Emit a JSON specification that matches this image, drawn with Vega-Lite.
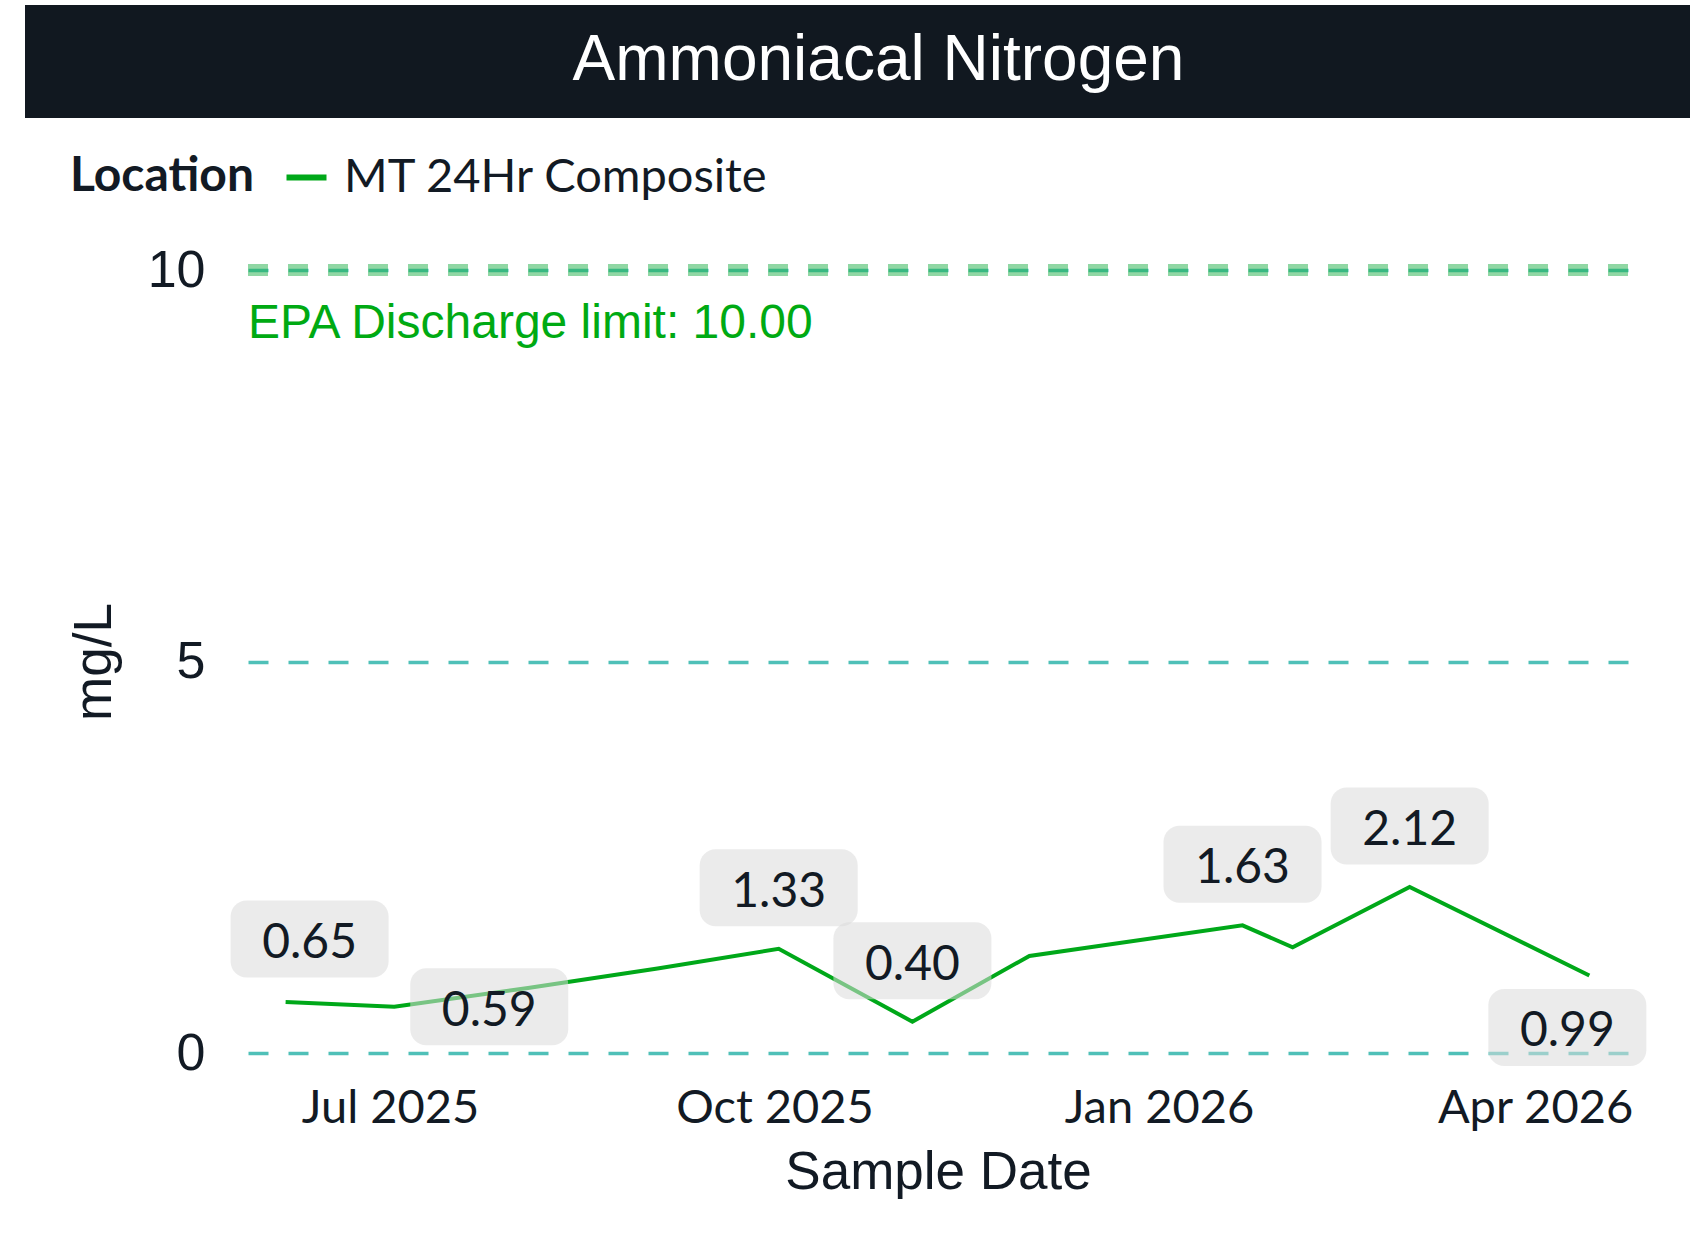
{
  "$schema": "https://vega.github.io/schema/vega-lite/v6.json",
  "background": "white",
  "padding": {"left": 25, "top": 5, "right": 0, "bottom": 0},
  "config": {"view": {"stroke": null}},
  "datasets": {
    "samples": [
      {"date": "2025-06-06T00:00:00", "value": 0.65, "location": "MT 24Hr Composite", "label_pos": "top-right"},
      {"date": "2025-07-02T00:00:00", "value": 0.59, "location": "MT 24Hr Composite", "label_pos": "right"},
      {"date": "2025-08-03T00:00:00", "value": 0.83, "location": "MT 24Hr Composite", "label_pos": "none"},
      {"date": "2025-09-03T00:00:00", "value": 1.08, "location": "MT 24Hr Composite", "label_pos": "none"},
      {"date": "2025-10-02T00:00:00", "value": 1.33, "location": "MT 24Hr Composite", "label_pos": "top"},
      {"date": "2025-11-03T00:00:00", "value": 0.40, "location": "MT 24Hr Composite", "label_pos": "top"},
      {"date": "2025-12-01T00:00:00", "value": 1.24, "location": "MT 24Hr Composite", "label_pos": "none"},
      {"date": "2026-01-21T00:00:00", "value": 1.63, "location": "MT 24Hr Composite", "label_pos": "top"},
      {"date": "2026-02-02T00:00:00", "value": 1.35, "location": "MT 24Hr Composite", "label_pos": "none"},
      {"date": "2026-03-02T00:00:00", "value": 2.12, "location": "MT 24Hr Composite", "label_pos": "top"},
      {"date": "2026-04-14T00:00:00", "value": 0.99, "location": "MT 24Hr Composite", "label_pos": "bottom-left"}
    ],
    "limits": [
      {"limit": 10, "label": "EPA Discharge limit: 10.00", "start": "2025-05-28T00:00:00"}
    ]
  },
  "vconcat": [
    {
      "width": 1665,
      "height": 113,
      "view": {"fill": "#111820", "stroke": null},
      "data": {"values": [{"title": "Ammoniacal Nitrogen"}]},
      "mark": {"type": "text", "font": "Liberation Sans", "fontSize": 64, "color": "white", "dx": 21, "dy": -1, "baseline": "middle", "align": "center"},
      "encoding": {"text": {"field": "title", "type": "nominal"}}
    },
    {
      "spacing": 0,
      "hconcat": [
        {
          "width": 43,
          "height": 1,
          "view": {"stroke": null},
          "data": {"values": [{"t": ""}]},
          "mark": {"type": "text"},
          "encoding": {"text": {"field": "t", "type": "nominal"}}
        },
        {
          "width": 1380,
          "height": 783,
          "encoding": {
            "x": {
              "field": "date", "type": "temporal", "title": "Sample Date",
              "scale": {"domain": ["2025-05-28T00:00:00", "2026-04-23T06:00:00"]},
              "axis": {
                "format": "%b %Y", "tickCount": {"interval": "month", "step": 3},
                "grid": false, "domain": false, "ticks": false,
                "labelFont": "Lato", "labelFontSize": 47, "labelColor": "#121a24", "labelPadding": 32,
                "labelOverlap": false, "labelFlush": false, "labelLimit": 1000,
                "titleFont": "Liberation Sans", "titleFontSize": 53, "titleFontWeight": "normal", "titleColor": "#121a24", "titlePadding": 15
              }
            },
            "y": {
              "field": "value", "type": "quantitative", "title": "mg/L",
              "scale": {"domain": [0, 10], "nice": false},
              "axis": {
                "values": [0, 5, 10], "domain": false, "ticks": false,
                "grid": true, "gridColor": "#4fc0b8", "gridDash": [20, 20], "gridWidth": 3.5,
                "labelFont": "Liberation Sans", "labelFontSize": 52, "labelColor": "#121a24", "labelPadding": 43,
                "titleFont": "Liberation Sans", "titleFontSize": 53, "titleFontWeight": "normal", "titleColor": "#121a24", "titlePadding": 26
              }
            }
          },
          "layer": [
            {
              "data": {"name": "limits"},
              "mark": {"type": "rule", "color": "#22b04a", "opacity": 0.5, "strokeWidth": 12, "strokeDash": [20, 20]},
              "encoding": {"y": {"field": "limit", "type": "quantitative"}, "x": null}
            },
            {
              "data": {"name": "limits"},
              "mark": {"type": "text", "font": "Liberation Sans", "fontSize": 48, "color": "#00aa13", "align": "left", "baseline": "middle", "dy": 54},
              "encoding": {
                "x": {"field": "start", "type": "temporal"},
                "y": {"field": "limit", "type": "quantitative"},
                "text": {"field": "label", "type": "nominal"}
              }
            },
            {
              "data": {"name": "samples"},
              "mark": {"type": "line", "strokeWidth": 4},
              "encoding": {
                "color": {
                  "field": "location", "type": "nominal",
                  "scale": {"range": ["#00a819"]},
                  "legend": {
                    "orient": "none", "legendX": 45, "legendY": 149, "direction": "horizontal",
                    "title": "Location", "titleOrient": "left", "titleFont": "Lato", "titleFontSize": 48,
                    "titleFontWeight": "bold", "titleColor": "#121a24", "titlePadding": 29, "titleBaseline": "middle",
                    "titleLimit": 1000, "labelLimit": 1000,
                    "labelFont": "Lato", "labelFontSize": 47, "labelColor": "#121a24", "labelOffset": 14,
                    "symbolType": "stroke", "symbolSize": 1600, "symbolStrokeWidth": 6, "padding": 0
                  }
                }
              }
            },
            {
              "data": {"name": "samples"},
              "transform": [{"filter": "datum.label_pos === 'top'"}],
              "encoding": {"xOffset": {"value": 0}, "yOffset": {"value": -61}},
              "layer": [
                {"mark": {"type": "rect", "width": 158, "height": 77, "cornerRadius": 16, "color": "#dbdbda", "opacity": 0.55}},
                {"mark": {"type": "text", "font": "Lato", "fontSize": 48, "color": "#121a24", "baseline": "middle", "dy": 5},
                 "encoding": {"text": {"field": "value", "type": "quantitative", "format": ".2f"}}}
              ]
            },
            {
              "data": {"name": "samples"},
              "transform": [{"filter": "datum.label_pos === 'top-right'"}],
              "encoding": {"xOffset": {"value": 24}, "yOffset": {"value": -63}},
              "layer": [
                {"mark": {"type": "rect", "width": 158, "height": 77, "cornerRadius": 16, "color": "#dbdbda", "opacity": 0.55}},
                {"mark": {"type": "text", "font": "Lato", "fontSize": 48, "color": "#121a24", "baseline": "middle", "dy": 5},
                 "encoding": {"text": {"field": "value", "type": "quantitative", "format": ".2f"}}}
              ]
            },
            {
              "data": {"name": "samples"},
              "transform": [{"filter": "datum.label_pos === 'right'"}],
              "encoding": {"xOffset": {"value": 95}, "yOffset": {"value": 0}},
              "layer": [
                {"mark": {"type": "rect", "width": 158, "height": 77, "cornerRadius": 16, "color": "#dbdbda", "opacity": 0.55}},
                {"mark": {"type": "text", "font": "Lato", "fontSize": 48, "color": "#121a24", "baseline": "middle", "dy": 5},
                 "encoding": {"text": {"field": "value", "type": "quantitative", "format": ".2f"}}}
              ]
            },
            {
              "data": {"name": "samples"},
              "transform": [{"filter": "datum.label_pos === 'bottom-left'"}],
              "encoding": {"xOffset": {"value": -22}, "yOffset": {"value": 52}},
              "layer": [
                {"mark": {"type": "rect", "width": 158, "height": 77, "cornerRadius": 16, "color": "#dbdbda", "opacity": 0.55}},
                {"mark": {"type": "text", "font": "Lato", "fontSize": 48, "color": "#121a24", "baseline": "middle", "dy": 5},
                 "encoding": {"text": {"field": "value", "type": "quantitative", "format": ".2f"}}}
              ]
            }
          ]
        }
      ]
    }
  ],
  "spacing": 126,
  "align": "none"
}
